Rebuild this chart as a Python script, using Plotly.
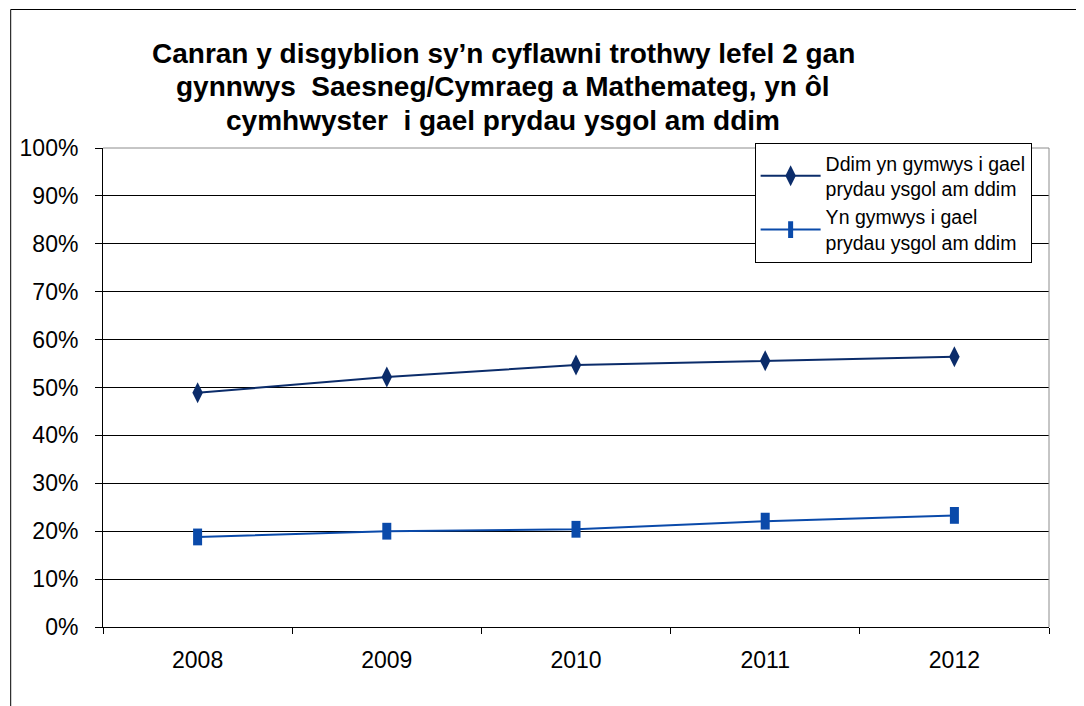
import plotly.graph_objects as go

years = ["2008", "2009", "2010", "2011", "2012"]
not_eligible = [0.489, 0.522, 0.547, 0.556, 0.564]
eligible = [0.188, 0.200, 0.204, 0.221, 0.233]
name_not = "Ddim yn gymwys i gael<br>prydau ysgol am ddim"
name_elig = "Yn gymwys i gael<br>prydau ysgol am ddim"
title_lines = [
    "Canran y disgyblion sy’n cyflawni trothwy lefel 2 gan",
    "gynnwys  Saesneg/Cymraeg a Mathemateg, yn ôl",
    "cymhwyster  i gael prydau ysgol am ddim",
]
y_ticks = [i / 10 for i in range(11)]

FONT = "Liberation Sans, Arial, sans-serif"
OFF = 8  # page body margin
W, H = 1084, 706
# plot area in page coordinates
PL, PR, PT, PB = 101, 1049, 148, 627
L, R, T, B = PL - OFF, W - (PR - OFF), PT - OFF, H - (PB - OFF)
ph = PB - PT
pw = PR - PL

def py(pix):
    return (PB - pix) / ph

def px(pix):
    return (pix - PL) / pw

fig = go.Figure()
fig.add_trace(go.Scatter(
    x=years, y=not_eligible, name=name_not, mode="lines+markers",
    line=dict(color="#0B2C6A", width=2),
    marker=dict(symbol="diamond-tall", size=15, color="#0B2C6A"),
))
fig.add_trace(go.Scatter(
    x=years, y=eligible, name=name_elig, mode="lines+markers",
    line=dict(color="#0A4AAA", width=2),
    marker=dict(symbol="line-ns", size=12, color="#0A4AAA",
                line=dict(width=9, color="#0A4AAA")),
))

annotations = []
for txt, yb in zip(title_lines, [53, 87, 120]):
    annotations.append(dict(
        text="<b>" + txt + "</b>", xref="paper", yref="paper",
        x=px(502), y=py(yb), xanchor="center", yanchor="middle",
        showarrow=False, font=dict(family=FONT, size=28, color="black"),
    ))

shapes = [
    # outer chart frame (left and top visible)
    dict(type="line", xref="paper", yref="paper", x0=px(8.5), x1=px(8.5),
         y0=py(730), y1=py(9.5), line=dict(color="black", width=1)),
    dict(type="line", xref="paper", yref="paper", x0=px(8.5), x1=px(1100),
         y0=py(9.5), y1=py(9.5), line=dict(color="black", width=1)),
    # plot area top/right border (gray)
    dict(type="line", xref="paper", yref="paper", x0=0, x1=1, y0=1, y1=1,
         line=dict(color="#8C8C8C", width=1)),
    dict(type="line", xref="paper", yref="paper", x0=1, x1=1, y0=0, y1=1,
         line=dict(color="#8C8C8C", width=1)),
]

fig.update_layout(
    width=W, height=H,
    margin=dict(l=L, r=R, t=T, b=B),
    paper_bgcolor="white", plot_bgcolor="white",
    font=dict(family=FONT, size=23, color="black"),
    annotations=annotations,
    shapes=shapes,
    showlegend=True,
    legend=dict(
        x=px(754), y=py(143), xanchor="left", yanchor="top",
        bgcolor="white", bordercolor="black", borderwidth=1,
        font=dict(family=FONT, size=19.5, color="black"),
        itemwidth=60,
    ),
    xaxis=dict(
        type="category", tickson="boundaries", ticks="outside", ticklen=6,
        tickcolor="black", showline=True, linecolor="black", linewidth=1,
        showgrid=False, tickfont=dict(size=23, color="black"),
        range=[-0.5, 4.5], fixedrange=True, ticklabelstandoff=12,
    ),
    yaxis=dict(
        range=[0, 1], tickvals=y_ticks, tickformat=".0%", ticks="outside",
        ticklen=7, tickcolor="black", showline=True, linecolor="black",
        linewidth=1, showgrid=True, gridcolor="black", gridwidth=1,
        zeroline=False, tickfont=dict(size=23, color="black"),
        ticklabelstandoff=12,
    ),
)

fig.write_html("out.html")
